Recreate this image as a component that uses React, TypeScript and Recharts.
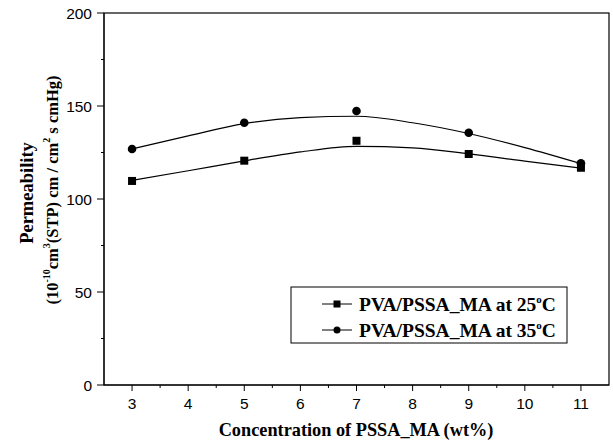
import React from 'react';
import { ComposedChart, Line, Scatter, XAxis, YAxis, Customized } from 'recharts';

const concentration = [3, 5, 7, 9, 11];
const perm25 = [109.7, 120.6, 131.3, 124.2, 116.8];
const perm35 = [126.9, 141.0, 147.3, 135.6, 119.2];
const fitX = [3, 4, 5, 6, 7, 8, 9, 10, 11];
const fit25 = [110.0, 115.2, 120.5, 125.3, 128.3, 127.5, 124.3, 120.4, 116.6];
const fit35 = [126.9, 133.9, 140.5, 143.7, 144.5, 141.0, 135.2, 127.6, 119.0];
const xMajor = [3, 4, 5, 6, 7, 8, 9, 10, 11];
const xMinor = [3.5, 4.5, 5.5, 6.5, 7.5, 8.5, 9.5, 10.5];
const yMajor = [0, 50, 100, 150, 200];
const yMinor = [25, 75, 125, 175];
const legendLabels = ['PVA/PSSA_MA at 25', 'PVA/PSSA_MA at 35'];

const pts25 = concentration.map((x, i) => ({ x, y: perm25[i] }));
const pts35 = concentration.map((x, i) => ({ x, y: perm35[i] }));
const line25 = fitX.map((x, i) => ({ x, y: fit25[i] }));
const line35 = fitX.map((x, i) => ({ x, y: fit35[i] }));

const sans = '"Liberation Sans", Arial, sans-serif';
const serif = '"Liberation Serif", "Times New Roman", serif';

const XTick = (props: any) => {
  const { x, y, payload } = props;
  const major = xMajor.includes(payload.value);
  return (
    <g>
      <line x1={x} y1={y} x2={x} y2={y + (major ? 6 : 3)} stroke="#000" strokeWidth={1} />
      {major && (
        <text x={x} y={y + 24} textAnchor="middle" fontFamily={sans} fontSize={15.5} fill="#000">
          {payload.value}
        </text>
      )}
    </g>
  );
};

const YTick = (props: any) => {
  const { x, y, payload } = props;
  const major = yMajor.includes(payload.value);
  return (
    <g>
      <line x1={x} y1={y} x2={x - (major ? 7 : 3)} y2={y} stroke="#000" strokeWidth={1} />
      {major && (
        <text x={x - 12} y={y + 5.5} textAnchor="end" fontFamily={sans} fontSize={15.5} fill="#000">
          {payload.value}
        </text>
      )}
    </g>
  );
};

const Square = (props: any) => {
  const { cx, cy } = props;
  if (cx == null || cy == null) return null;
  return <rect x={cx - 4} y={cy - 4} width={8} height={8} fill="#000" />;
};
const Circle = (props: any) => {
  const { cx, cy } = props;
  if (cx == null || cy == null) return null;
  return <circle cx={cx} cy={cy} r={4.3} fill="#000" />;
};

const Decor = () => (
  <g>
    <rect x={104} y={13} width={505} height={372} fill="none" stroke="#000" strokeWidth={1.2} />
    <rect x={291} y={287} width={276} height={56} fill="#fff" stroke="#000" strokeWidth={1} />
    <line x1={322} y1={304} x2={352} y2={304} stroke="#000" />
    <rect x={333.5} y={300.5} width={7} height={7} fill="#000" />
    <text x={359} y={311} fontFamily={serif} fontWeight="bold" fontSize={19.5} fill="#000">
      {legendLabels[0]}
      <tspan dy={-8} fontSize={11}>o</tspan>
      <tspan dy={8}>C</tspan>
    </text>
    <line x1={322} y1={330} x2={352} y2={330} stroke="#000" />
    <circle cx={337} cy={330} r={3.5} fill="#000" />
    <text x={359} y={337} fontFamily={serif} fontWeight="bold" fontSize={19.5} fill="#000">
      {legendLabels[1]}
      <tspan dy={-8} fontSize={11}>o</tspan>
      <tspan dy={8}>C</tspan>
    </text>
    <text x={356} y={436} textAnchor="middle" fontFamily={serif} fontWeight="bold" fontSize={18.3} fill="#000">
      Concentration of PSSA_MA (wt%)
    </text>
    <text x={33} y={193} transform="rotate(-90, 33, 193)" textAnchor="middle" fontFamily={serif} fontWeight="bold" fontSize={18.5} fill="#000">
      Permeability
    </text>
    <text x={58} y={190} transform="rotate(-90, 58, 190)" textAnchor="middle" fontFamily={serif} fontWeight="bold" fontSize={16.5} fill="#000">
      (10<tspan dy={-8} fontSize={10}>-10</tspan>
      <tspan dy={8}>cm</tspan>
      <tspan dy={-8} fontSize={10}>3</tspan>
      <tspan dy={8}>(STP) cm / cm</tspan>
      <tspan dy={-8} fontSize={10}>2</tspan>
      <tspan dy={8}> s cmHg)</tspan>
    </text>
  </g>
);

export default function App() {
  return (
    <div style={{ position: 'absolute', left: 0, top: 0, width: 613, height: 444, background: '#fff' }}>
      <ComposedChart width={613} height={444} margin={{ top: 13, right: 4, bottom: 0, left: 0 }}>
        <XAxis
          type="number"
          dataKey="x"
          domain={[2.5, 11.5]}
          ticks={[...xMajor, ...xMinor].sort((a, b) => a - b)}
          interval={0}
          tick={<XTick />}
          tickLine={false}
          tickSize={0}
          tickMargin={0}
          height={59}
          axisLine={{ stroke: '#000' }}
          allowDataOverflow
        />
        <YAxis
          type="number"
          dataKey="y"
          domain={[0, 200]}
          ticks={[...yMajor, ...yMinor].sort((a, b) => a - b)}
          interval={0}
          tick={<YTick />}
          tickLine={false}
          tickSize={0}
          tickMargin={0}
          width={104}
          axisLine={{ stroke: '#000' }}
          allowDataOverflow
        />
        <Line data={line25} dataKey="y" type="monotone" stroke="#000" strokeWidth={1.2} dot={false} isAnimationActive={false} />
        <Line data={line35} dataKey="y" type="monotone" stroke="#000" strokeWidth={1.2} dot={false} isAnimationActive={false} />
        <Scatter data={pts25} dataKey="y" shape={<Square />} isAnimationActive={false} />
        <Scatter data={pts35} dataKey="y" shape={<Circle />} isAnimationActive={false} />
        <Customized component={Decor} />
      </ComposedChart>
    </div>
  );
}
